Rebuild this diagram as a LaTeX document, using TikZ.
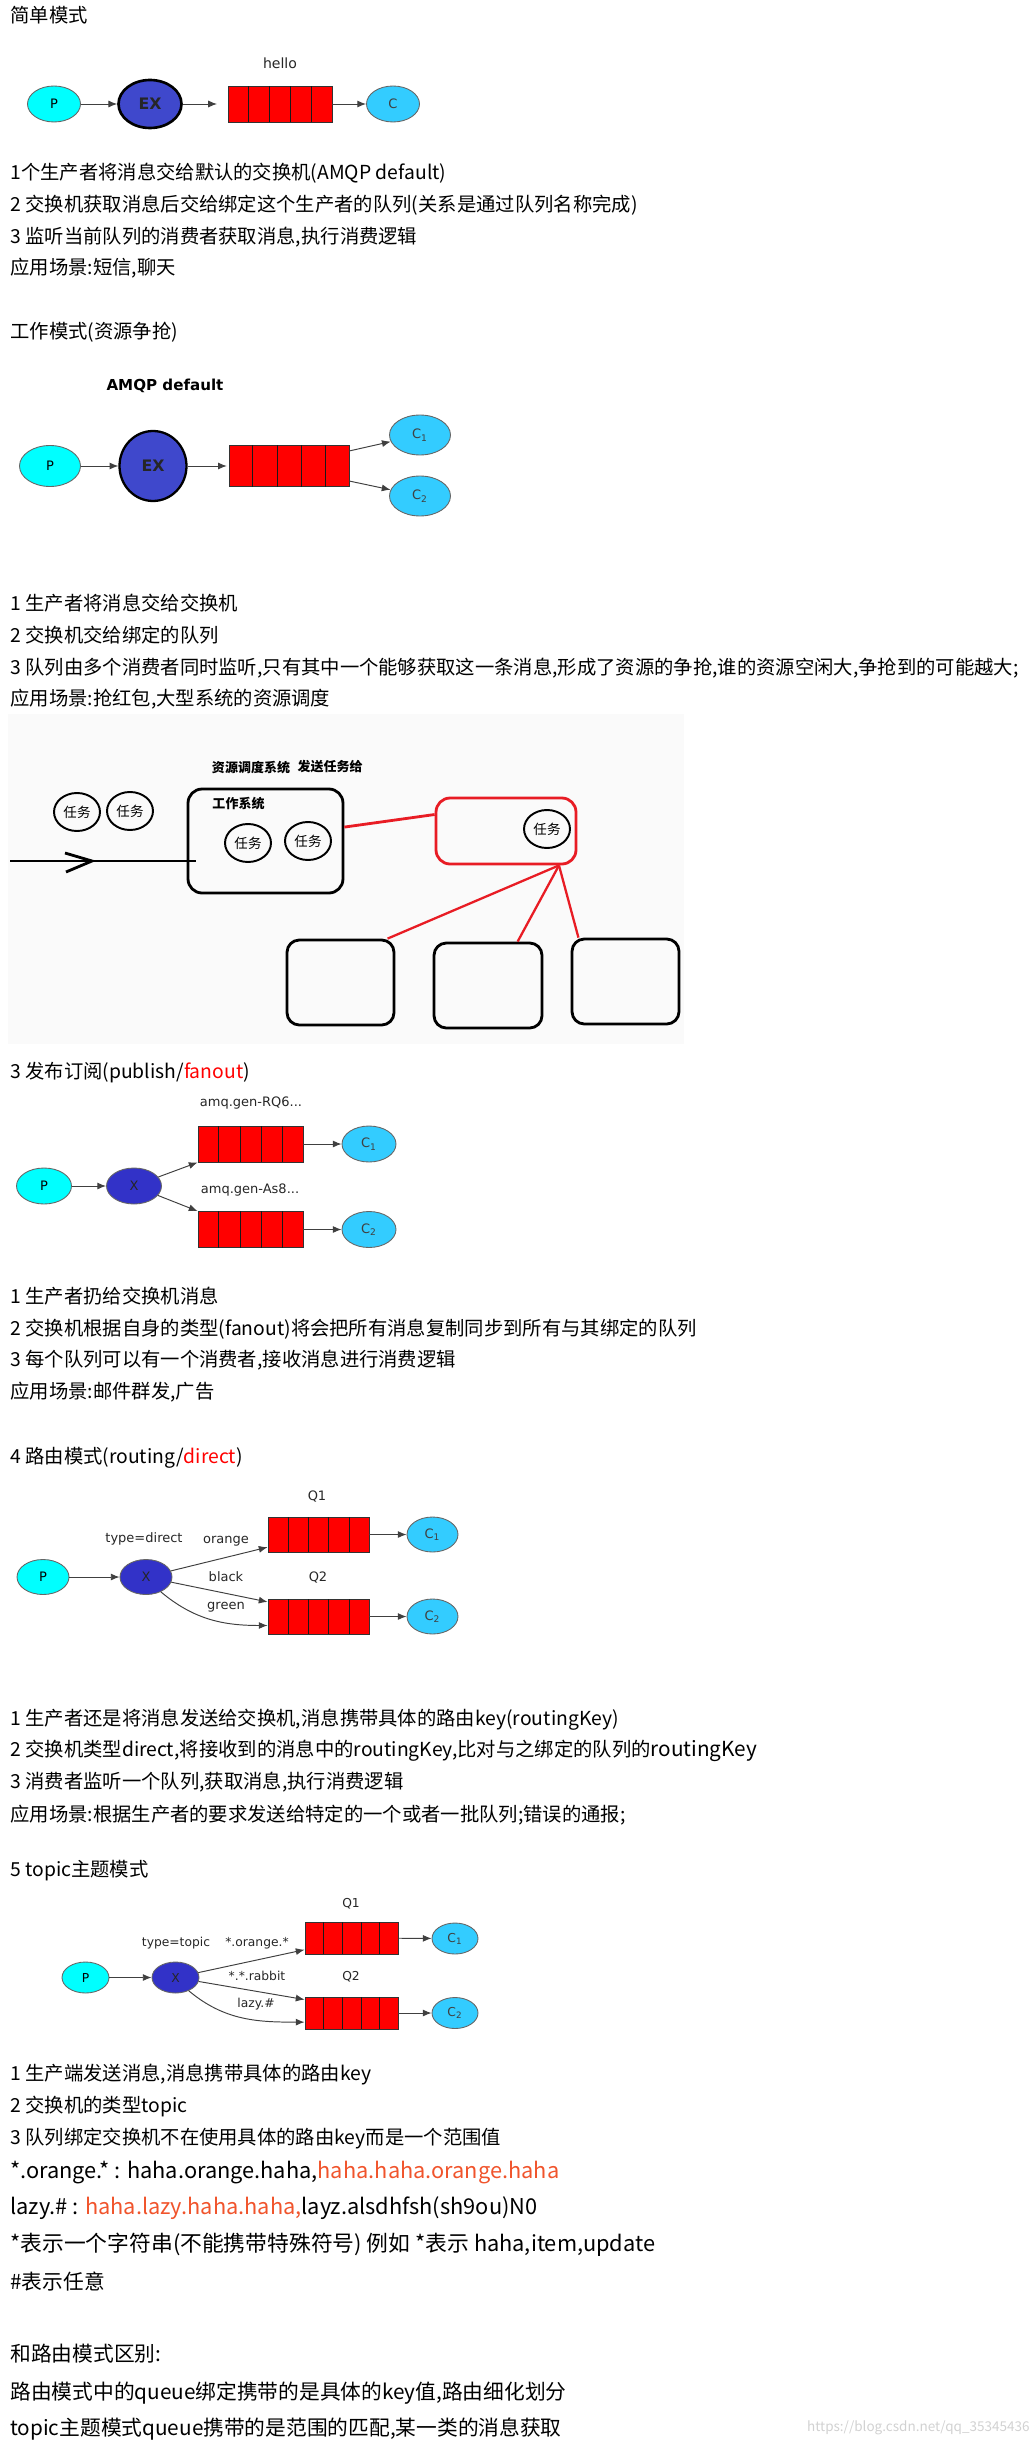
\documentclass[tikz,border=0pt]{standalone}
\usepackage{fontspec}
\setmainfont{Noto Sans CJK SC}
\newfontfamily\dejavu{DejaVu Sans}
\usetikzlibrary{shapes.geometric,arrows.meta,calc}

\definecolor{prodcol}{RGB}{0,255,255}
\definecolor{conscol}{RGB}{51,204,255}
\definecolor{excol}{RGB}{63,72,204}
\definecolor{xcol}{RGB}{50,50,200}
\definecolor{penred}{RGB}{232,28,36}
\definecolor{hlred}{RGB}{240,84,44}
\definecolor{bggray}{RGB}{250,250,250}

% 队列的格子
\newcommand{\qcells}[1]{%
  \foreach \k in {1,...,4}
    \draw[black!90] ($(#1.south west)!\k/5!(#1.south east)$) -- ($(#1.north west)!\k/5!(#1.north east)$);}

\begin{document}
\begin{tikzpicture}[
    x=0.02cm, y=-0.02cm,
    txt/.style={anchor=base west, inner sep=0, font=\fontsize{11pt}{13pt}\selectfont},
    bigtxt/.style={txt, font=\fontsize{12.4pt}{15pt}\selectfont},
    midtxt/.style={txt, font=\fontsize{11.8pt}{14pt}\selectfont},
    lbl/.style={inner sep=0, text=black!85, font=\dejavu\fontsize{7.4pt}{9pt}\selectfont},
    prod/.style={ellipse, draw=black!60, line width=0.5pt, fill=prodcol, inner sep=0, font=\dejavu\fontsize{7.4pt}{9pt}\selectfont},
    cons/.style={prod, fill=conscol, text=black!75},
    exch/.style={prod, fill=xcol, text=black!85},
    queue/.style={rectangle, draw=black!80, line width=0.5pt, fill=red, inner sep=0},
    arr/.style={-{Latex[length=5pt,width=4pt]}, draw=black!75, line width=0.55pt},
    sz/.style 2 args={minimum width=#1, minimum height=#2},
    pen/.style={draw, line width=1.6pt, rounded corners=8pt, inner sep=0},
    task/.style={ellipse, draw, line width=1.1pt, inner sep=0, minimum width=0.92cm, minimum height=0.76cm, font=\fontsize{7.7pt}{9pt}\selectfont},
    note/.style={inner sep=0, font=\bfseries\fontsize{7.4pt}{9pt}\selectfont}
]
\useasboundingbox (0,0) rectangle (1034,2446);

% 简单模式
\node[txt] (h1) at (10,23) {简单模式};
\node[lbl, font=\dejavu\fontsize{8pt}{9pt}\selectfont] (hello) at (280,63) {hello};
\node[prod, sz={1.06cm}{0.72cm}] (p1) at (54,104) {P};
\node[exch, fill=excol, draw=black, line width=1.5pt, sz={1.26cm}{0.96cm}, font=\dejavu\bfseries\fontsize{9pt}{10pt}\selectfont] (ex1) at (150,104) {EX};
\node[queue, sz={2.08cm}{0.72cm}] (q1) at (280,104) {};
\qcells{q1}
\node[cons, sz={1.06cm}{0.72cm}] (c1) at (393,104) {C};
\draw[arr] (p1) -- (ex1);
\draw[arr, shorten >=6pt] (ex1) -- (q1);
\draw[arr] (q1) -- (c1);

\node[txt] (t11) at (10,180) {1个生产者将消息交给默认的交换机(AMQP default)};
\node[txt] (t12) at (10,212) {2 交换机获取消息后交给绑定这个生产者的队列(关系是通过队列名称完成)};
\node[txt] (t13) at (10,244) {3 监听当前队列的消费者获取消息,执行消费逻辑};
\node[txt] (t14) at (10,275) {应用场景:短信,聊天};

% 工作模式
\node[txt] (h2) at (10,339) {工作模式(资源争抢)};
\node[lbl, text=black, font=\dejavu\bfseries\fontsize{8.6pt}{10pt}\selectfont] (amqp) at (165,386) {AMQP default};
\node[prod, sz={1.22cm}{0.82cm}] (p2) at (50,466) {P};
\node[exch, fill=excol, draw=black, line width=1.3pt, sz={1.34cm}{1.40cm}, font=\dejavu\bfseries\fontsize{9pt}{10pt}\selectfont] (ex2) at (153,466) {EX};
\node[queue, sz={2.40cm}{0.82cm}] (q2) at (289,466) {};
\qcells{q2}
\node[cons, sz={1.22cm}{0.80cm}] (c21) at (420,435) {C\textsubscript{1}};
\node[cons, sz={1.22cm}{0.80cm}] (c22) at (420,496) {C\textsubscript{2}};
\draw[arr] (p2) -- (ex2);
\draw[arr, shorten >=1pt] (ex2) -- (q2);
\draw[arr] (q2.14) -- (c21);
\draw[arr] (q2.-14) -- (c22);

\node[txt] (t21) at (10,610) {1 生产者将消息交给交换机};
\node[txt] (t22) at (10,642) {2 交换机交给绑定的队列};
\node[txt] (t23) at (10,674) {3 队列由多个消费者同时监听,只有其中一个能够获取这一条消息,形成了资源的争抢,谁的资源空闲大,争抢到的可能越大;};
\node[txt] (t24) at (10,705) {应用场景:抢红包,大型系统的资源调度};

% 资源调度示意
\fill[bggray] (8,714) rectangle (684,1044);
\node[note] (sched) at (251,768) {资源调度系统};
\node[note] (send) at (330,767) {发送任务给};
\node[task] (w1) at (77,812) {任务};
\node[task] (w2) at (130,811) {任务};
\node[pen, minimum width=3.1cm, minimum height=2.08cm] (work) at (265.5,841) {};
\node[note] (worklbl) at (238.5,804) {工作系统};
\node[task] (w3) at (248,843) {任务};
\node[task] (w4) at (308,841) {任务};
\node[pen, draw=penred, minimum width=2.8cm, minimum height=1.32cm] (disp) at (506,831) {};
\node[task] (w5) at (547,829) {任务};
\node[pen, rounded corners=7pt, minimum width=2.14cm, minimum height=1.70cm] (box1) at (340.5,982.5) {};
\node[pen, rounded corners=7pt, minimum width=2.16cm, minimum height=1.70cm] (box2) at (488,985.5) {};
\node[pen, rounded corners=7pt, minimum width=2.14cm, minimum height=1.70cm] (box3) at (625.5,981.5) {};
\coordinate (inflow) at (10,861);
\coordinate (fork) at (disp.-33);
\draw[line width=1.6pt] (inflow) -- ([xshift=5.5pt]work.west |- inflow);
\draw[line width=1.6pt] (65,853) -- (92,861) -- (66,872);
\draw[penred, line width=1.6pt] (work.10) -- (disp.167);
\draw[penred, line width=1.3pt] (fork) -- (box1.43);
\draw[penred, line width=1.3pt] (fork) -- (box2.56);
\draw[penred, line width=1.3pt] (fork) -- (box3.137);

% 发布订阅
\node[txt] (h3) at (10,1078) {3 发布订阅(publish/\textcolor{red}{fanout})};
\node[lbl] (n31) at (251,1103) {amq.gen-RQ6...};
\node[lbl] (n32) at (250,1190) {amq.gen-As8...};
\node[prod, sz={1.10cm}{0.72cm}] (p3) at (44,1186) {P};
\node[exch, sz={1.10cm}{0.72cm}] (x3) at (134,1186) {X};
\node[queue, sz={2.10cm}{0.72cm}] (q31) at (250.5,1144) {};
\qcells{q31}
\node[queue, sz={2.10cm}{0.72cm}] (q32) at (250.5,1229.5) {};
\qcells{q32}
\node[cons, sz={1.08cm}{0.72cm}] (c31) at (369,1144) {C\textsubscript{1}};
\node[cons, sz={1.08cm}{0.72cm}] (c32) at (369,1229.5) {C\textsubscript{2}};
\draw[arr] (p3) -- (x3);
\draw[arr] (x3) -- (q31.south west);
\draw[arr] (x3) -- (q32.north west);
\draw[arr] (q31) -- (c31);
\draw[arr] (q32) -- (c32);

\node[txt] (t31) at (10,1303) {1 生产者扔给交换机消息};
\node[txt] (t32) at (10,1335) {2 交换机根据自身的类型(fanout)将会把所有消息复制同步到所有与其绑定的队列};
\node[txt] (t33) at (10,1366) {3 每个队列可以有一个消费者,接收消息进行消费逻辑};
\node[txt] (t34) at (10,1398) {应用场景:邮件群发,广告};

% 路由模式
\node[txt] (h4) at (10,1463) {4 路由模式(routing/\textcolor{red}{direct})};
\node[lbl] (n41) at (317,1496) {Q1};
\node[lbl] (n42) at (144,1539) {type=direct};
\node[lbl] (n43) at (226,1541) {orange};
\node[lbl] (n44) at (226,1577) {black};
\node[lbl] (n45) at (318,1577) {Q2};
\node[lbl] (n46) at (226,1607) {green};
\node[prod, sz={1.04cm}{0.70cm}] (p4) at (43,1577) {P};
\node[exch, sz={1.04cm}{0.70cm}] (x4) at (146,1577) {X};
\node[queue, sz={2.02cm}{0.70cm}] (q41) at (318.5,1534.5) {};
\qcells{q41}
\node[queue, sz={2.02cm}{0.70cm}] (q42) at (318.5,1616.5) {};
\qcells{q42}
\node[cons, sz={1.02cm}{0.70cm}] (c41) at (432.5,1534.5) {C\textsubscript{1}};
\node[cons, sz={1.02cm}{0.70cm}] (c42) at (432.5,1616.5) {C\textsubscript{2}};
\draw[arr] (p4) -- (x4);
\draw[arr] (x4) -- (q41.194);
\draw[arr] (x4) -- (q42.164);
\draw[arr] (x4.-45) to[out=-40, in=180] (q42.190);
\draw[arr] (q41) -- (c41);
\draw[arr] (q42) -- (c42);

\node[txt] (t41) at (10,1725) {1 生产者还是将消息发送给交换机,消息携带具体的路由key(routingKey)};
\node[txt] (t42) at (10,1756) {2 交换机类型direct,将接收到的消息中的routingKey,比对与之绑定的队列的{\fontsize{11.8pt}{14pt}\selectfont routingKey}};
\node[txt] (t43) at (10,1788) {3 消费者监听一个队列,获取消息,执行消费逻辑};
\node[txt] (t44) at (10,1821) {应用场景:根据生产者的要求发送给特定的一个或者一批队列;错误的通报;};

% topic主题模式
\node[txt] (h5) at (10,1876) {5 topic主题模式};
\node[lbl, font=\dejavu\fontsize{7pt}{9pt}\selectfont] (n51) at (351,1904) {Q1};
\node[lbl, font=\dejavu\fontsize{7pt}{9pt}\selectfont] (n52) at (176,1943) {type=topic};
\node[lbl, font=\dejavu\fontsize{7pt}{9pt}\selectfont] (n53) at (257,1943) {*.orange.*};
\node[lbl, font=\dejavu\fontsize{7pt}{9pt}\selectfont] (n54) at (257,1976) {*.*.rabbit};
\node[lbl, font=\dejavu\fontsize{7pt}{9pt}\selectfont] (n55) at (351,1977) {Q2};
\node[lbl, font=\dejavu\fontsize{7pt}{9pt}\selectfont] (n56) at (256,2004) {lazy.\#};
\node[prod, sz={0.94cm}{0.62cm}, font=\dejavu\fontsize{7pt}{9pt}\selectfont] (p5) at (85.5,1977.5) {P};
\node[exch, sz={0.94cm}{0.62cm}, font=\dejavu\fontsize{7pt}{9pt}\selectfont] (x5) at (175.5,1977.5) {X};
\node[queue, sz={1.86cm}{0.64cm}] (q51) at (351.5,1938) {};
\qcells{q51}
\node[queue, sz={1.86cm}{0.64cm}] (q52) at (351.5,2013) {};
\qcells{q52}
\node[cons, sz={0.92cm}{0.62cm}, font=\dejavu\fontsize{7pt}{9pt}\selectfont] (c51) at (455,1938.5) {C\textsubscript{1}};
\node[cons, sz={0.92cm}{0.62cm}, font=\dejavu\fontsize{7pt}{9pt}\selectfont] (c52) at (455,2013) {C\textsubscript{2}};
\draw[arr] (p5) -- (x5);
\draw[arr] (x5) -- (q51.194);
\draw[arr] (x5) -- (q52.164);
\draw[arr] (x5.-45) to[out=-40, in=180] (q52.191);
\draw[arr] (q51) -- (c51);
\draw[arr] (q52) -- (c52);

\node[txt] (t51) at (10,2080) {1 生产端发送消息,消息携带具体的路由key};
\node[txt] (t52) at (10,2112) {2 交换机的类型topic};
\node[txt] (t53) at (10,2144) {3 队列绑定交换机不在使用具体的路由key而是一个范围值};
\node[bigtxt] (t54) at (10,2178) {*.orange.* : haha.orange.haha,\textcolor{hlred}{haha.haha.orange.haha}};
\node[bigtxt] (t55) at (10,2214) {lazy.\# : \textcolor{hlred}{haha.lazy.haha.haha,}layz.alsdhfsh(sh9ou)N0};
\node[bigtxt] (t56) at (10,2251) {*表示一个字符串(不能携带特殊符号) 例如 *表示 haha,item,update};
\node[midtxt] (t57) at (10,2289) {\#表示任意};
\node[midtxt] (t58) at (10,2361) {和路由模式区别:};
\node[midtxt] (t59) at (10,2399) {路由模式中的queue绑定携带的是具体的key值,路由细化划分};
\node[midtxt] (t60) at (10,2435) {topic主题模式queue携带的是范围的匹配,某一类的消息获取};
\node[anchor=east, inner sep=0, text=black!18, font=\fontsize{7.7pt}{9pt}\selectfont] (wm) at (1030,2428) {https://blog.csdn.net/qq\_35345436};

\end{tikzpicture}
\end{document}
